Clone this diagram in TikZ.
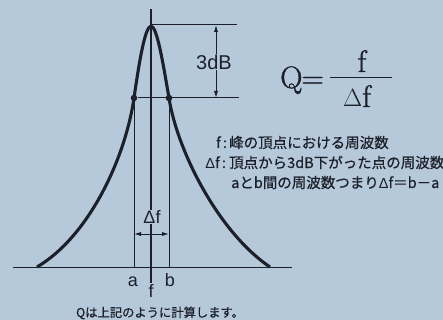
\documentclass[tikz,border=0pt]{standalone}
\usepackage{fontspec}
\newfontfamily\jp[FakeBold=0.6]{Noto Sans CJK JP}
\newfontfamily\lab{Liberation Sans}
\newfontfamily\frm[FakeBold=1.2]{Latin Modern Roman}
\usetikzlibrary{arrows.meta}
\definecolor{bg}{RGB}{182,201,219}
\definecolor{ink}{RGB}{28,32,42}
\begin{document}
\begin{tikzpicture}[x=1pt,y=-1pt,
  thinln/.style={draw=ink, line width=1pt},
  dimarrow/.style={thinln, {Latex[length=7pt,width=4.2pt]}-{Latex[length=7pt,width=4.2pt]}},
  curveln/.style={draw=ink, line width=3.1pt, line join=round},
  dotmark/.style={circle, fill=ink, inner sep=0pt, minimum size=6.6pt},
  lbl/.style={text=ink, inner sep=1pt, font=\lab\fontsize{18}{20}\selectfont},
  jptext/.style={text=ink, inner sep=0pt, font=\jp\fontsize{14.5}{16}\selectfont},
  formula/.style={text=ink, inner sep=0pt, font=\frm\fontsize{31}{33}\selectfont}]
\useasboundingbox (0,0) rectangle (443,320);
\fill[bg] (0,0) rectangle (443,320);

% key coordinates
\coordinate (peak) at (151,25);
\coordinate (toptop) at (151,9);
\coordinate (topend) at (237,25);
\coordinate (bl) at (13,267);
\coordinate (br) at (292,267);
\coordinate (cbot) at (151,283);
\coordinate (dbl) at (239,98);
\coordinate (ta) at (216,25);
\coordinate (tb) at (216,98);
\coordinate (abot) at (134,267);
\coordinate (bbot) at (169,267);
\coordinate (da) at (134,234);
\coordinate (db) at (169,234);

% baseline and helper lines
\draw[thinln] (bl) -- (br);
\draw[thinln] (peak) -- (topend);
\draw[thinln, line width=1.2pt] (toptop) -- (cbot);

% curve
\draw[curveln] (37,267) .. controls (88,237) and (125,160) .. (134,98)
  .. controls (139.5,60) and (145,27) .. (151,26)
  .. controls (157,27) and (162.5,60) .. (169,98)
  .. controls (177,150) and (218,232) .. (270,267);

% dots
\node[dotmark] (pa) at (134,98) {};
\node[dotmark] (pb) at (169,98) {};
\draw[thinln] (pa) -- (dbl);
\draw[thinln] (pa.center) -- (abot);
\draw[thinln] (pb.center) -- (bbot);

% 3dB dimension
\draw[dimarrow] (ta) -- (tb);
\node[lbl, fill=bg, font=\lab\fontsize{20}{22}\selectfont] (dbl3) at (214,62) {3dB};

% delta f dimension
\draw[dimarrow] (da) -- (db);
\node[lbl, fill=bg, inner sep=0.5pt] (dflab) at (152,217) {Δf};

% axis labels
\node[lbl, anchor=base] (la) at (133,286) {a};
\node[lbl, anchor=base] (lb) at (170,286) {b};
\node[lbl, anchor=base] (lf) at (151,297) {f};

% formula
\node[formula, anchor=base west] (q) at (280,88) {Q\kern-1pt=};
\draw[ink, line width=1pt] (330,78) -- (392,78);
\node[formula, anchor=base] (num) at (362,72) {f};
\node[formula, anchor=base] (den) at (357,107) {$\Delta$f};

% explanation
\node[jptext, anchor=base east] (l1a) at (221,148) {f};
\node[jptext, anchor=base] (l1c) at (225,148) {:};
\node[jptext, anchor=base west] (l1b) at (229,148) {峰の頂点における周波数};
\node[jptext, anchor=base east] (l2a) at (220,168) {{\lab Δ}f};
\node[jptext, anchor=base] (l2c) at (224,168) {:};
\node[jptext, anchor=base west] (l2b) at (229,168) {頂点から3dB下がった点の周波数};
\node[jptext, anchor=base west] (l3) at (231,188) {aとb間の周波数つまり{\lab Δ}f＝b－a};

\node[jptext, anchor=base, font=\jp\fontsize{12.3}{14}\selectfont] (bottom) at (160,317) {Qは上記のように計算します。};
\end{tikzpicture}
\end{document}
